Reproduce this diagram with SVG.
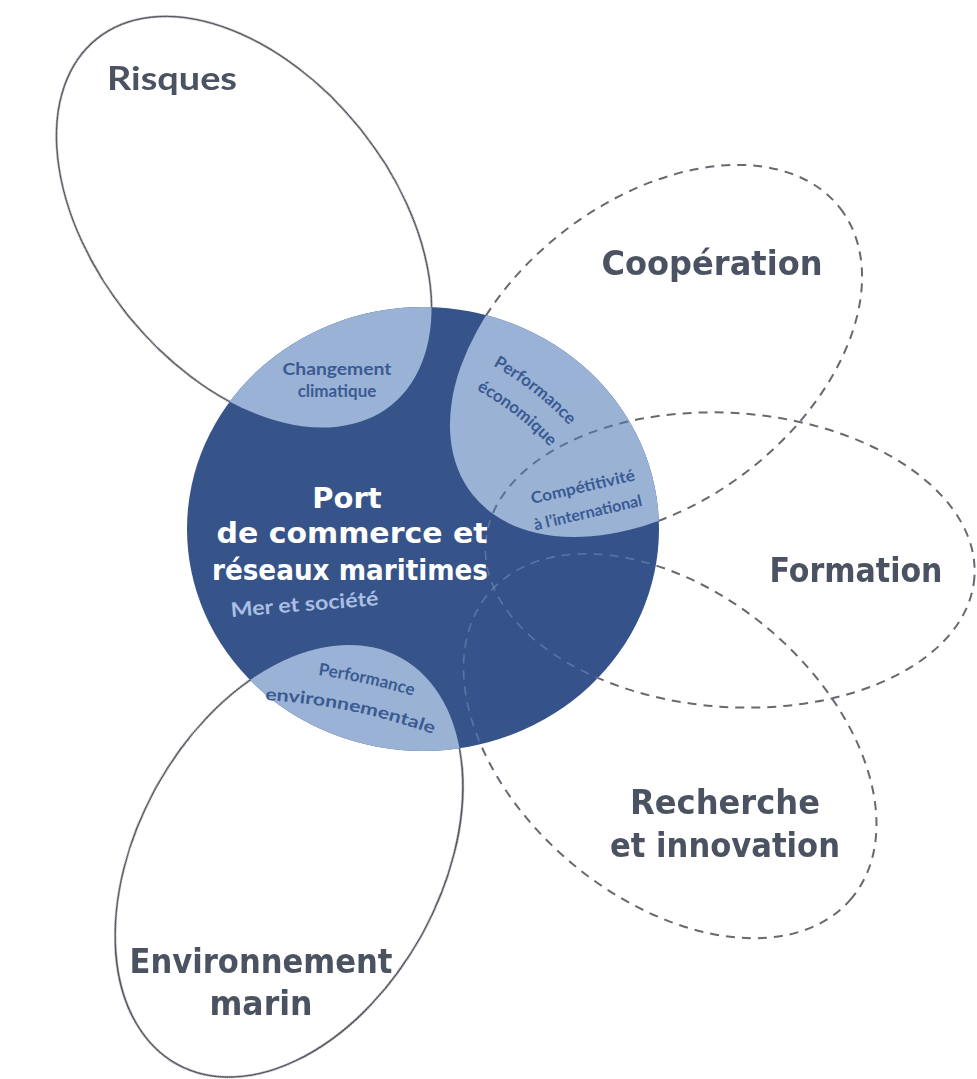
<svg xmlns="http://www.w3.org/2000/svg" width="977" height="1079" viewBox="0 0 977 1079">
<style>
.solid{fill:none;stroke:#42454f;stroke-width:1.6}
.dash{fill:none;stroke:#666a70;stroke-width:2;stroke-dasharray:9 7}
.faint{fill:none;stroke:#9cb4dc;stroke-width:1.6;stroke-dasharray:9 7;opacity:.35}
.indash{fill:none;stroke:#5e7096;stroke-width:2;stroke-dasharray:9 7}
.big{font-family:"DejaVu Sans","Liberation Sans",sans-serif;font-weight:bold;fill:#4b5261;text-anchor:middle}
.title{font-family:"DejaVu Sans","Liberation Sans",sans-serif;font-weight:bold;fill:#ffffff;text-anchor:middle;font-size:29px}
.small{font-family:Lato,"Open Sans",sans-serif;font-weight:bold;fill:#3a5a93;font-size:17px;text-anchor:middle}
</style>
<defs>
<ellipse id="eMain" cx="423" cy="529" rx="236" ry="222"/>
<ellipse id="eRis" cx="0" cy="0" rx="235" ry="149" transform="translate(244 222) rotate(51.2)"/>
<ellipse id="eEnv" cx="0" cy="0" rx="232" ry="152" transform="translate(289 861) rotate(-61.2)"/>
<ellipse id="eCoop" cx="0" cy="0" rx="233" ry="151" transform="translate(656 351) rotate(-37.8)"/>
<ellipse id="eForm" cx="0" cy="0" rx="245" ry="147" transform="translate(730 560) rotate(4)"/>
<ellipse id="eRech" cx="0" cy="0" rx="237" ry="153" transform="translate(670 746) rotate(40)"/>
<clipPath id="mainClip"><ellipse cx="423" cy="529" rx="236" ry="222"/></clipPath>
<clipPath id="coopClip"><ellipse cx="0" cy="0" rx="233" ry="151" transform="translate(656 351) rotate(-37.8)"/></clipPath>
<mask id="outside" maskUnits="userSpaceOnUse" x="0" y="0" width="977" height="1079">
<rect x="0" y="0" width="977" height="1079" fill="#fff"/>
<ellipse cx="423" cy="529" rx="236" ry="222" fill="#000"/>
</mask>
<path id="pPerfEco" d="M447.4 344.8 A314 314 0 0 1 611.9 483"/>
<path id="pEco" d="M437.5 372.1 A285 285 0 0 1 586.8 497.5"/>
<path id="pPerfEnv" d="M176.2 671.4 A628 628 0 0 1 496.4 727.8"/>
<path id="pEnvi" d="M178.9 701.3 A598 598 0 0 1 483.7 755"/>
</defs>
<rect x="0" y="0" width="977" height="1079" fill="#ffffff"/>

<g id="port">
<use href="#eMain" fill="#37548a"/>
<g clip-path="url(#mainClip)">
<use href="#eRis" fill="#9ab2d5"/>
<use href="#eCoop" fill="#9ab2d5"/>
<use href="#eEnv" fill="#9ab2d5"/>
<use href="#eForm" class="faint"/>
<use href="#eRech" class="faint"/>
<g clip-path="url(#coopClip)"><use href="#eForm" class="indash"/></g>
</g>
<text class="title" x="347" y="508">Port</text>
<text class="title" x="352" y="543" textLength="271" lengthAdjust="spacingAndGlyphs">de commerce et</text>
<text class="title" x="350" y="580" textLength="276" lengthAdjust="spacingAndGlyphs">réseaux maritimes</text>
<text class="small" x="305" y="611" transform="rotate(-4.6 305 611)" textLength="148" lengthAdjust="spacingAndGlyphs" style="fill:#a9bfe3;font-size:20px">Mer et société</text>
<text class="small" x="337" y="375" textLength="109" lengthAdjust="spacingAndGlyphs">Changement</text>
<text class="small" x="337" y="397">climatique</text>
<text class="small"><textPath href="#pPerfEco" startOffset="45%">Performance</textPath></text>
<text class="small"><textPath href="#pEco" startOffset="45%">économique</textPath></text>
<text class="small" x="584" y="492" transform="rotate(-13 584 492)" textLength="106" lengthAdjust="spacingAndGlyphs" style="font-size:16px">Compétitivité</text>
<text class="small" x="589" y="518" transform="rotate(-13 589 518)" style="font-size:16px">à l’international</text>
<text class="small"><textPath href="#pPerfEnv" startOffset="58%">Performance</textPath></text>
<text class="small"><textPath href="#pEnvi" startOffset="55%" textLength="172" lengthAdjust="spacingAndGlyphs">environnementale</textPath></text>
</g>

<g id="connectors" mask="url(#outside)">
<use href="#eRis" class="solid"/>
<use href="#eEnv" class="solid"/>
<use href="#eCoop" class="dash"/>
<use href="#eForm" class="dash"/>
<use href="#eRech" class="dash"/>
</g>

<g id="risques"><text x="172" y="90" text-anchor="middle" textLength="130" lengthAdjust="spacingAndGlyphs" style="font-family:Lato,'Open Sans',sans-serif;font-weight:bold;font-size:33px;fill:#4b5261">Risques</text></g>
<g id="cooperation"><text class="big" x="712" y="275" font-size="34" textLength="221" lengthAdjust="spacingAndGlyphs">Coopération</text></g>
<g id="formation"><text class="big" x="856" y="582" font-size="34" textLength="173" lengthAdjust="spacingAndGlyphs">Formation</text></g>
<g id="recherche">
<text class="big" x="725" y="814" font-size="34" textLength="190" lengthAdjust="spacingAndGlyphs">Recherche</text>
<text class="big" x="725" y="857" font-size="34" textLength="230" lengthAdjust="spacingAndGlyphs">et innovation</text>
</g>
<g id="environnement">
<text class="big" x="261" y="973" font-size="34" textLength="263" lengthAdjust="spacingAndGlyphs">Environnement</text>
<text class="big" x="261" y="1015" font-size="34" textLength="103" lengthAdjust="spacingAndGlyphs">marin</text>
</g>
</svg>
